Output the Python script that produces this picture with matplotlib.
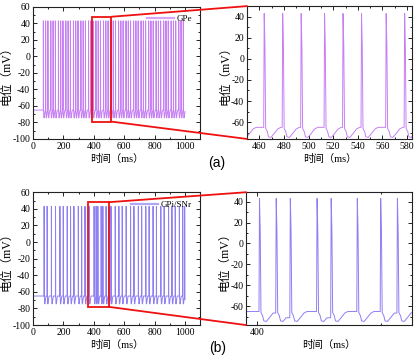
import numpy as np
import matplotlib
matplotlib.use("Agg")
import matplotlib.pyplot as plt
from matplotlib.patches import Rectangle, ConnectionPatch
from matplotlib.ticker import MultipleLocator

plt.rcParams['font.family'] = ['Liberation Serif', 'Noto Sans CJK SC', 'DejaVu Sans']
plt.rcParams['axes.unicode_minus'] = False

# spike peak times (ms)
gpe_spikes = [68, 83, 98, 117, 132, 147, 167, 182, 197, 216, 231, 246, 266, 281, 296,
              315, 330, 345, 365, 380, 395, 414, 429, 444, 464, 479, 494, 513, 528, 543,
              563, 578, 593, 612, 627, 642, 662, 677, 692, 711, 726, 741, 761, 776, 791,
              810, 825, 840, 860, 875, 890, 909, 924, 939, 959, 974, 989]
gpi_spikes = [73, 93, 121, 148, 177, 199, 225, 247, 269, 298, 320, 342, 369,
              401.8, 415.3, 426.7, 448.3, 459.7, 480.8, 499.7, 513.2,
              541, 565, 587, 613, 642, 664, 693, 715, 742, 764, 790, 812, 841, 863,
              892, 914, 936, 963, 985, 998]

# shape of one spike (time after peak, mV)
wave_dt = [0.0, 0.6, 1.2, 2.5, 3.5, 5.5, 8.0, 11.0, 13.5]
wave_v = [43, 12, -66, -69, -74, -74.5, -71, -66.5, -65]
start_t = [0, 4]
start_v = [-72, -65]
t_end = 1001

c_gpe = '#c680f4'
c_gpi = '#8e80f2'


def trace(spikes):
    t = list(start_t)
    v = list(start_v)
    for i, t0 in enumerate(spikes):
        nxt = spikes[i + 1] if i + 1 < len(spikes) else t_end + 20
        if t[-1] < t0 - 0.4:
            t.append(t0 - 0.4)
            v.append(v[-1])
        for dt, vv in zip(wave_dt, wave_v):
            if t0 + dt < nxt - 0.4:
                t.append(t0 + dt)
                v.append(vv)
    t = np.array(t)
    v = np.array(v)
    keep = t <= t_end
    return t[keep], v[keep]


def style(ax):
    ax.tick_params(which='both', direction='in', top=True, right=True,
                   labelsize=7, width=0.6, pad=2)
    ax.tick_params(which='major', length=3)
    ax.tick_params(which='minor', length=1.5)
    for s in ax.spines.values():
        s.set_linewidth(0.8)
        s.set_color('#222222')
    ax.set_xlabel('时间（ms）', fontsize=7.5, labelpad=2)
    ax.set_ylabel('电位（mV）', fontsize=8.5, labelpad=0)


fig = plt.figure(figsize=(4.2, 3.6), dpi=100)

panels = [
    dict(sp=gpe_spikes, c=c_gpe, name='GPe', lpos=[0.0786, 0.614, 0.398, 0.367],
         rpos=[0.588, 0.614, 0.393, 0.369], box=(391, 516, -79, 48),
         rx=(450, 584), ry=(-76, 50), rstep=20, tag='(a)', tagy=0.547),
    dict(sp=gpi_spikes, c=c_gpi, name='GPi/SNr', lpos=[0.0786, 0.097, 0.398, 0.369],
         rpos=[0.586, 0.097, 0.395, 0.369], box=(364, 497, -78, 48),
         rx=(391, 525), ry=(-78, 49), rstep=200, tag='(b)', tagy=0.033),
]

for p in panels:
    t, v = trace(p['sp'])
    axl = fig.add_axes(p['lpos'])
    axl.plot(t, v, color=p['c'], lw=0.7, label=p['name'])
    axl.set_xlim(0, 1100)
    axl.set_ylim(-100, 60)
    axl.xaxis.set_major_locator(MultipleLocator(200))
    axl.xaxis.set_minor_locator(MultipleLocator(100))
    axl.yaxis.set_major_locator(MultipleLocator(20))
    axl.yaxis.set_minor_locator(MultipleLocator(10))
    style(axl)
    leg = axl.legend(loc='upper right', frameon=False, fontsize=6.5, handlelength=3,
                     borderaxespad=0.7, handletextpad=0.3, borderpad=0.2)
    for ln in leg.get_lines():
        ln.set_linewidth(1.6)
        ln.set_alpha(0.7)

    axr = fig.add_axes(p['rpos'])
    axr.plot(t, v, color=p['c'], lw=0.7)
    axr.set_xlim(*p['rx'])
    axr.set_ylim(*p['ry'])
    axr.xaxis.set_major_locator(MultipleLocator(p['rstep']))
    axr.xaxis.set_minor_locator(MultipleLocator(p['rstep'] / 2))
    axr.yaxis.set_major_locator(MultipleLocator(20))
    axr.yaxis.set_minor_locator(MultipleLocator(10))
    style(axr)

    x0, x1, y0, y1 = p['box']
    axl.add_patch(Rectangle((x0, y0), x1 - x0, y1 - y0, fill=False,
                            ec='#ee1111', lw=1.3, zorder=5))
    for yy, fy in [(y1, 1), (y0, 0)]:
        con = ConnectionPatch(xyA=(x1, yy), coordsA=axl.transData,
                              xyB=(0, fy), coordsB=axr.transAxes,
                              color='#ee1111', lw=1.3)
        fig.add_artist(con)

    fig.text(0.517, p['tagy'], p['tag'], ha='center', va='center',
             fontsize=10, family='Liberation Sans')

fig.savefig('out.png', dpi=100)
